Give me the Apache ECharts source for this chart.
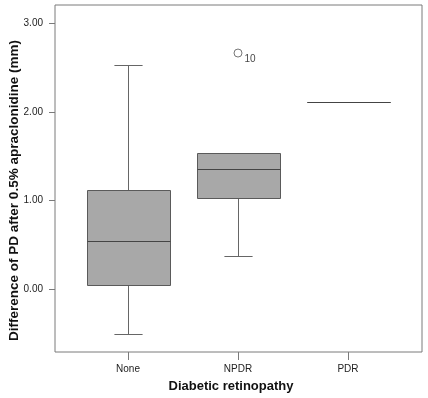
<!doctype html>
<html lang="en">
<head>
  <meta charset="UTF-8">
  <title>Box plot</title>
  <style>
    html, body { margin: 0; padding: 0; background: #fff; }
    #chart { width: 428px; height: 398px; }
  </style>
  <script src="https://cdn.jsdelivr.net/npm/echarts@6/dist/echarts.min.js"></script>
</head>
<body>
  <div id="chart"></div>
  <script>
    var categories = ['None', 'NPDR', 'PDR'];
    var whiskerLow = [-0.50, 0.38, 2.11];
    var q1 = [0.05, 1.03, 2.11];
    var median = [0.55, 1.36, 2.11];
    var q3 = [1.12, 1.54, 2.11];
    var whiskerHigh = [2.53, 1.54, 2.11];
    var outliers = [[1, 2.66, '10']];
    var yTicks = [0, 1, 2, 3];

    var font = 'Liberation Sans, Arial, sans-serif';
    var myChart = echarts.init(document.getElementById('chart'));

    var boxData = [];
    for (var i = 0; i < categories.length; i++) {
      boxData.push([i, whiskerLow[i], q1[i], median[i], q3[i], whiskerHigh[i]]);
    }

    function crisp(v) {
      return Math.round(v) + 0.5;
    }

    function renderBox(params, api) {
      var idx = api.value(0);
      var band = api.size([1, 0])[0];
      var half = band * 0.375;
      var cap = band * 0.128;
      var lo = api.coord([idx, api.value(1)]);
      var b1 = api.coord([idx, api.value(2)]);
      var md = api.coord([idx, api.value(3)]);
      var b3 = api.coord([idx, api.value(4)]);
      var hi = api.coord([idx, api.value(5)]);
      var x = crisp(md[0]);
      var lineStyle = { stroke: '#666', lineWidth: 1 };
      return {
        type: 'group',
        children: [
          { type: 'line', shape: { x1: x, y1: crisp(lo[1]), x2: x, y2: crisp(b1[1]) }, style: lineStyle },
          { type: 'line', shape: { x1: x, y1: crisp(b3[1]), x2: x, y2: crisp(hi[1]) }, style: lineStyle },
          { type: 'line', shape: { x1: x - cap, y1: crisp(lo[1]), x2: x + cap, y2: crisp(lo[1]) }, style: lineStyle },
          { type: 'line', shape: { x1: x - cap, y1: crisp(hi[1]), x2: x + cap, y2: crisp(hi[1]) }, style: lineStyle },
          {
            type: 'rect',
            shape: { x: crisp(x - half), y: crisp(b3[1]), width: Math.round(half * 2), height: Math.round(b1[1] - b3[1]) },
            style: { fill: '#a8a8a8', stroke: '#5a5a5a', lineWidth: 1 }
          },
          { type: 'line', shape: { x1: crisp(x - half), y1: crisp(md[1]), x2: crisp(x + half), y2: crisp(md[1]) }, style: { stroke: '#444', lineWidth: 1.2 } }
        ]
      };
    }

    var option = {
      backgroundColor: '#fff',
      animation: false,
      grid: [
        // frame
        { left: 55, top: 5, width: 367, height: 347, show: true, borderColor: '#7a7a7a', borderWidth: 1, backgroundColor: 'transparent', outerBoundsMode: 'none' },
        // data
        { left: 73, top: 5, width: 330, height: 347, outerBoundsMode: 'none' }
      ],
      xAxis: [
        { gridIndex: 0, type: 'value', show: false },
        {
          gridIndex: 1,
          type: 'category',
          data: categories,
          axisLine: { show: false, onZero: false },
          axisTick: { show: true, alignWithLabel: true, length: 8, lineStyle: { color: '#7a7a7a' } },
          axisLabel: { color: '#222', fontSize: 10, fontFamily: font, margin: 12 },
          name: 'Diabetic retinopathy',
          nameLocation: 'middle',
          nameGap: 28,
          nameMoveOverlap: false,
          nameTextStyle: { color: '#111', fontSize: 13, fontWeight: 'bold', fontFamily: font, padding: [0, 14, 0, 0] }
        }
      ],
      yAxis: [
        { gridIndex: 0, type: 'value', show: false },
        {
          gridIndex: 1,
          type: 'value',
          min: -0.7,
          max: 3.2,
          offset: 18,
          splitLine: { show: false },
          axisLine: { show: false, onZero: false },
          axisTick: { show: true, length: 6, customValues: yTicks, lineStyle: { color: '#7a7a7a' } },
          axisLabel: {
            customValues: yTicks,
            color: '#222', fontSize: 10, fontFamily: font, margin: 12,
            formatter: function (v) { return v.toFixed(2); }
          },
          name: 'Difference of PD after 0.5% apraclonidine (mm)',
          nameLocation: 'middle',
          nameGap: 34,
          nameMoveOverlap: false,
          nameTextStyle: { color: '#111', fontSize: 13.5, fontWeight: 'bold', fontFamily: font, padding: [0, 24, 0, 0] }
        }
      ],
      series: [
        {
          type: 'custom',
          xAxisIndex: 1,
          yAxisIndex: 1,
          renderItem: renderBox,
          encode: { x: 0, y: [1, 2, 3, 4, 5] },
          data: boxData
        },
        {
          type: 'scatter',
          xAxisIndex: 1,
          yAxisIndex: 1,
          symbol: 'circle',
          symbolSize: 8,
          itemStyle: { color: '#fff', borderColor: '#555', borderWidth: 1 },
          label: {
            show: true,
            position: 'right',
            distance: 2,
            offset: [0, 6],
            color: '#111',
            fontSize: 10,
            fontFamily: font,
            formatter: function (p) { return p.data[2]; }
          },
          data: outliers
        }
      ]
    };

    myChart.setOption(option);
  </script>
</body>
</html>
